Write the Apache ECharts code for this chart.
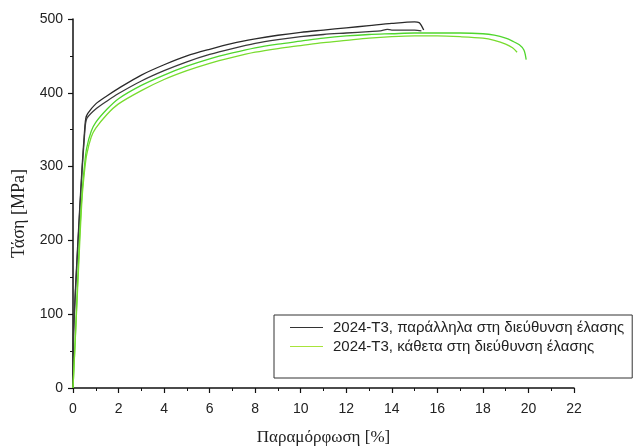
<!DOCTYPE html>
<html lang="el">
<head>
    <meta charset="UTF-8">
    <title>Τάση - Παραμόρφωση</title>
    <script type="text/javascript" src="https://cdn.jsdelivr.net/npm/echarts@6/dist/echarts.min.js"></script>
    <style>
        html, body { margin: 0; padding: 0; background: #fff; }
        #ec { width: 635px; height: 446px; }
    </style>
</head>
<body>
<div id="ec"></div>
<script>
    // καμπύλες τάσης-παραμόρφωσης (τιμές από το διάγραμμα)
    var parStrainA = [0, 0.02, 0.2, 0.4, 0.5, 0.56, 0.65, 1, 1.5, 2, 3, 4, 5, 6, 7, 8, 9, 10, 11, 12, 13, 14, 15, 15.2, 15.3, 15.4];
    var parStressA = [0, 70, 190, 300, 345, 365, 372, 385, 396, 406, 424, 438, 450, 459, 467, 473, 478, 482, 485, 488, 491, 494, 496, 495, 491, 485];

    var parStrainB = [0, 0.02, 0.2, 0.4, 0.5, 0.55, 0.62, 1, 1.5, 2, 3, 4, 5, 6, 7, 8, 9, 10, 11, 12, 13, 13.5, 13.8, 14, 14.5, 15, 15.3];
    var parStressB = [0, 68, 185, 295, 340, 358, 366, 378, 389, 399, 416, 430, 442, 452, 460, 467, 472, 476, 479, 481, 483, 484, 486, 485, 485, 485, 484];

    var perStrainA = [0, 0.1, 0.28, 0.4, 0.5, 0.6, 0.8, 1, 1.5, 2, 3, 4, 5, 6, 7, 8, 9, 10, 11, 12, 13, 14, 15, 16, 17, 18, 18.5, 19, 19.3, 19.6, 19.8, 19.9];
    var perStressA = [0, 68, 199, 265, 300, 325, 348, 360, 378, 392, 410, 424, 436, 446, 454, 461, 466, 470, 474, 477, 479, 480, 481, 481, 481, 480, 478, 474, 470, 465, 458, 445];

    var perStrainB = [0, 0.1, 0.3, 0.4, 0.5, 0.6, 0.8, 1, 1.5, 2, 3, 4, 5, 6, 7, 8, 9, 10, 11, 12, 13, 14, 15, 16, 17, 18, 18.5, 19, 19.3, 19.5];
    var perStressB = [0, 65, 200, 258, 292, 316, 340, 352, 371, 385, 403, 418, 430, 440, 448, 455, 460, 464, 468, 471, 474, 476, 477, 477, 476, 474, 471, 466, 461, 455];

    var nameParallel = '2024-T3, παράλληλα στη διεύθυνση έλασης';
    var namePerp = '2024-T3, κάθετα στη διεύθυνση έλασης';

    function pairs(xs, ys) {
        var out = [];
        for (var i = 0; i < xs.length; i++) {
            out.push([xs[i], ys[i]]);
        }
        return out;
    }

    function curve(name, xs, ys, color) {
        return {
            name: name,
            type: 'line',
            symbol: 'none',
            smooth: 0.3,
            data: pairs(xs, ys),
            lineStyle: { color: color, width: 1.3 },
            itemStyle: { color: color },
            z: 2
        };
    }

    var myChart = echarts.init(document.getElementById('ec'));
    myChart.setOption({
        animation: false,
        backgroundColor: '#fff',
        grid: { left: 73, right: 61, top: 19, bottom: 58, outerBoundsMode: 'none', containLabel: false },
        legend: {
            orient: 'vertical',
            left: 274,
            top: 315,
            padding: [5, 8, 24, 16],
            itemGap: 4,
            itemWidth: 33,
            itemHeight: 1,
            icon: 'rect',
            borderColor: '#333',
            borderWidth: 1,
            borderRadius: 0,
            textStyle: {
                fontFamily: 'Liberation Sans',
                fontSize: 15,
                color: '#222',
                padding: [0, 0, 0, 5]
            },
            data: [
                { name: nameParallel, itemStyle: { color: '#333' } },
                { name: namePerp, itemStyle: { color: '#a8e43a' } }
            ]
        },
        xAxis: {
            type: 'value',
            min: 0,
            max: 22,
            interval: 2,
            name: 'Παραμόρφωση [%]',
            nameLocation: 'middle',
            nameGap: 41,
            nameTextStyle: { fontFamily: 'Liberation Serif', fontSize: 17, color: '#222' },
            axisLine: { lineStyle: { color: '#111', width: 1.5 } },
            axisTick: { inside: false, length: 5, lineStyle: { color: '#111', width: 1.2 } },
            minorTick: { show: true, splitNumber: 2, length: 3, lineStyle: { color: '#111' } },
            axisLabel: { fontFamily: 'Liberation Sans', fontSize: 14, color: '#222', margin: 14 },
            splitLine: { show: false }
        },
        yAxis: {
            type: 'value',
            min: 0,
            max: 500,
            interval: 100,
            name: 'Τάση [MPa]',
            nameLocation: 'middle',
            nameGap: 35,
            nameRotate: 90,
            nameTextStyle: { fontFamily: 'Liberation Serif', fontSize: 18, color: '#222', padding: [0, 20, 0, 0] },
            axisLine: { show: true, lineStyle: { color: '#111', width: 1.5 } },
            axisTick: { show: true, inside: false, length: 5, lineStyle: { color: '#111', width: 1.2 } },
            minorTick: { show: true, splitNumber: 2, length: 3, lineStyle: { color: '#111' } },
            axisLabel: { fontFamily: 'Liberation Sans', fontSize: 14, color: '#222', margin: 10 },
            splitLine: { show: false }
        },
        series: [
            curve(nameParallel, parStrainA, parStressA, '#2a2a2a'),
            curve(nameParallel, parStrainB, parStressB, '#3a3a3a'),
            curve(namePerp, perStrainA, perStressA, '#4fd62c'),
            curve(namePerp, perStrainB, perStressB, '#78dc2e')
        ]
    });
</script>
</body>
</html>
